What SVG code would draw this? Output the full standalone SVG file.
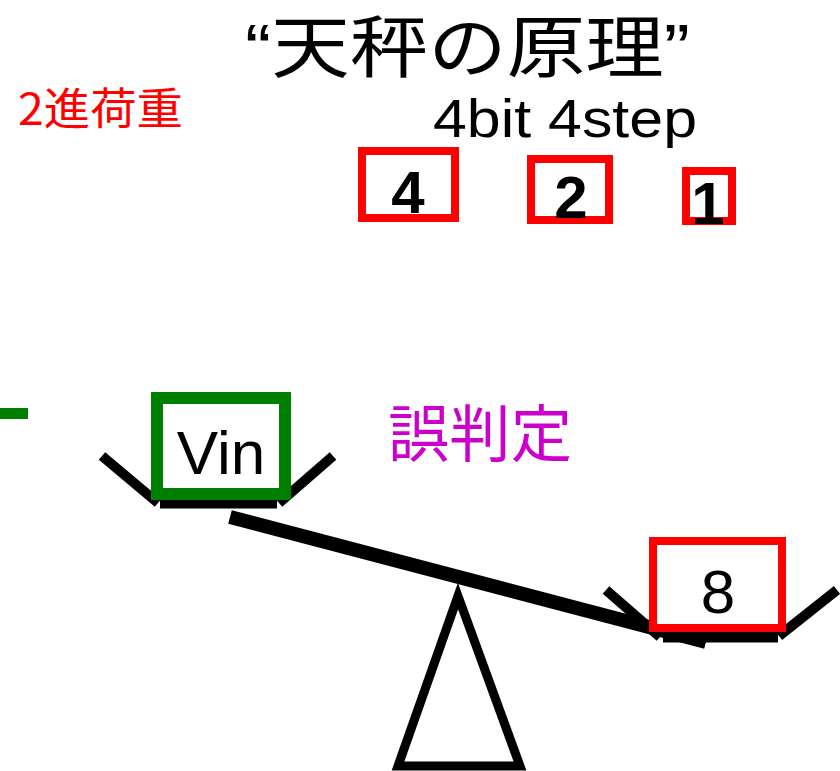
<svg xmlns="http://www.w3.org/2000/svg" width="840" height="771" viewBox="0 0 840 771">
  <style>
    .jp { font-family: "Noto Sans CJK JP", "Noto Sans", sans-serif; }
    .head { font-family: "Liberation Sans", "Noto Sans CJK JP", sans-serif; }
    .lat { font-family: "Liberation Sans", Arial, sans-serif; }
    .wbox { fill: #fff; stroke: #ff0000; stroke-width: 8; }
    .wnum { font-family: "Liberation Sans", Arial, sans-serif; font-weight: bold; font-size: 60px; text-anchor: middle; fill: #000; }
    .bar { stroke: #000; fill: none; stroke-linecap: butt; }
  </style>

  <rect width="840" height="771" fill="#fff"/>

  <!-- headings -->
  <g id="title">
    <text class="head" x="245" y="72" font-size="68" textLength="445" lengthAdjust="spacingAndGlyphs" fill="#000">“天秤の原理”</text>
  </g>
  <g id="binary-weights-label">
    <text class="jp" x="18" y="125" font-size="44" textLength="165" lengthAdjust="spacingAndGlyphs" fill="#ff0000">2進荷重</text>
  </g>
  <g id="steps-label">
    <text class="lat" x="433" y="137" font-size="54" textLength="264" lengthAdjust="spacingAndGlyphs" fill="#000">4bit 4step</text>
  </g>

  <!-- spare weights -->
  <g id="weight-4">
    <rect class="wbox" x="362" y="151" width="93" height="67"/>
    <text class="wnum" x="408" y="213">4</text>
  </g>
  <g id="weight-2">
    <rect class="wbox" x="531" y="159" width="78" height="61"/>
    <text class="wnum" x="571" y="218">2</text>
  </g>
  <g id="weight-1">
    <rect class="wbox" x="686" y="171" width="46" height="50"/>
    <text class="wnum" x="708" y="224">1</text>
  </g>

  <!-- left marker -->
  <g id="marker">
    <rect x="0" y="408" width="28" height="11" fill="#008000"/>
  </g>

  <!-- misjudgement label -->
  <g id="misjudge-label">
    <text class="jp" x="388" y="457" font-size="62" textLength="184" lengthAdjust="spacingAndGlyphs" fill="#cc00cc">誤判定</text>
  </g>

  <!-- balance frame -->
  <g id="connectors">
    <!-- beam -->
    <line class="bar" x1="230" y1="517" x2="706" y2="642" stroke-width="14"/>
    <!-- left pan -->
    <line class="bar" x1="102" y1="456" x2="158" y2="503" stroke-width="10"/>
    <line class="bar" x1="160" y1="504" x2="277" y2="504" stroke-width="9"/>
    <line class="bar" x1="279" y1="503" x2="333" y2="456" stroke-width="10"/>
    <!-- right pan -->
    <line class="bar" x1="606" y1="590" x2="660" y2="637" stroke-width="10"/>
    <line class="bar" x1="663" y1="637" x2="778" y2="637" stroke-width="11"/>
    <line class="bar" x1="779" y1="636" x2="837" y2="590" stroke-width="10"/>
    <!-- fulcrum -->
    <polygon points="458,596 398,766 520,766" fill="#fff" stroke="#000" stroke-width="9" stroke-linejoin="miter"/>
  </g>

  <!-- load on the left pan -->
  <g id="vin">
    <rect x="157" y="398" width="128" height="96" fill="#fff" stroke="#008000" stroke-width="12"/>
    <text class="lat" x="221" y="474" font-size="62" text-anchor="middle" fill="#000">Vin</text>
  </g>

  <!-- weight on the right pan -->
  <g id="weight-8">
    <rect class="wbox" x="653" y="541" width="129" height="87"/>
    <text class="lat" x="718" y="613" font-size="62" text-anchor="middle" fill="#000">8</text>
  </g>
</svg>
